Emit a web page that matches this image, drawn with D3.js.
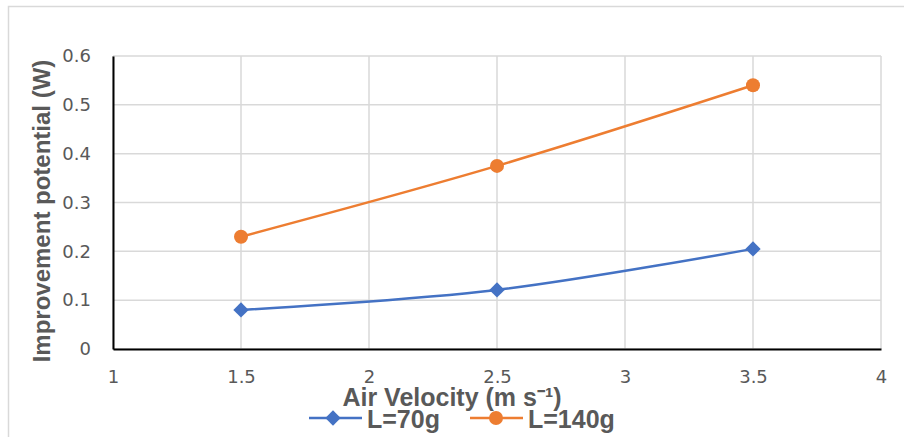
<!DOCTYPE html>
<html><head><meta charset="utf-8">
<script src="https://cdn.jsdelivr.net/npm/d3@7"></script>
<style>body{margin:0;background:#fff}svg{display:block}</style>
</head><body>
<svg id="chart" width="904" height="437"></svg>
<script>
const velocities = [1.5, 2.5, 3.5];
const seriesNames = ["L=70g", "L=140g"];
const values70 = [0.080, 0.121, 0.205];
const values140 = [0.230, 0.375, 0.540];
const xTicks = [1, 1.5, 2, 2.5, 3, 3.5, 4];
const yTicks = [0, 0.1, 0.2, 0.3, 0.4, 0.5, 0.6];
const colors = ["#4472C4", "#ED7D31"];

const svg = d3.select("#chart");
const m = {left: 113, right: 881, top: 56, bottom: 349};
const x = d3.scaleLinear().domain([1, 4]).range([m.left, m.right]);
const y = d3.scaleLinear().domain([0, 0.6]).range([m.bottom, m.top]);

// outer frame (left + top)
svg.append("path").attr("d", "M8.5,437 L8.5,6.5 L904,6.5")
  .attr("fill", "none").attr("stroke", "#d9d9d9").attr("stroke-width", 1.5);

// gridlines
svg.append("g").selectAll("line").data(yTicks).join("line")
  .attr("x1", m.left).attr("x2", m.right)
  .attr("y1", d => y(d)).attr("y2", d => y(d))
  .attr("stroke", "#d9d9d9").attr("stroke-width", 1.5);
svg.append("g").selectAll("line").data(xTicks).join("line")
  .attr("x1", d => x(d)).attr("x2", d => x(d))
  .attr("y1", m.top).attr("y2", m.bottom)
  .attr("stroke", "#d9d9d9").attr("stroke-width", 1.5);

// axes
const yAxis = svg.append("g").attr("transform", `translate(${m.left},0)`)
  .call(d3.axisLeft(y).tickValues(yTicks).tickSize(0).tickPadding(22).tickFormat(d => d3.format("")(+d.toFixed(1))));
const xAxis = svg.append("g").attr("transform", `translate(0,${m.bottom})`)
  .call(d3.axisBottom(x).tickValues(xTicks).tickSize(0).tickPadding(21).tickFormat(d => d3.format("")(d)));
[yAxis, xAxis].forEach(a => {
  a.select(".domain").attr("stroke", "#000").attr("stroke-width", 2);
  a.selectAll("text").attr("font-family", "'DejaVu Sans', sans-serif")
    .attr("font-size", 18).attr("fill", "#595959");
});

// lines
const line = d3.line().x(d => x(d[0])).y(d => y(d[1])).curve(d3.curveCatmullRom.alpha(0.5));
const allSeries = [values70, values140];
allSeries.forEach((vals, i) => {
  const pts = velocities.map((v, j) => [v, vals[j]]);
  svg.append("path").datum(pts).attr("d", line)
    .attr("fill", "none").attr("stroke", colors[i]).attr("stroke-width", 2.5);
});
// markers
const diamond = d3.symbol().type(d3.symbolDiamond2).size(150);
svg.append("g").selectAll("path").data(velocities.map((v, j) => [v, values70[j]])).join("path")
  .attr("d", diamond).attr("transform", d => `translate(${x(d[0])},${y(d[1])})`)
  .attr("fill", colors[0]);
svg.append("g").selectAll("circle").data(velocities.map((v, j) => [v, values140[j]])).join("circle")
  .attr("cx", d => x(d[0])).attr("cy", d => y(d[1])).attr("r", 7)
  .attr("fill", colors[1]);

// axis titles
svg.append("text").attr("x", 452).attr("y", 406).attr("text-anchor", "middle")
  .attr("font-family", "'Liberation Sans', Arial, sans-serif").attr("font-weight", "bold")
  .attr("font-size", 25).attr("fill", "#595959").text("Air Velocity (m s\u207B\u00B9)");

svg.append("text").attr("transform", "translate(50,211) rotate(-90)").attr("text-anchor", "middle")
  .attr("font-family", "'Liberation Sans', Arial, sans-serif").attr("font-weight", "bold")
  .attr("font-size", 24).attr("fill", "#595959").text("Improvement potential (W)");

// legend
const legendX = [309, 470];
seriesNames.forEach((name, i) => {
  const g = svg.append("g").attr("transform", `translate(${legendX[i]},418)`);
  g.append("line").attr("x1", 0).attr("x2", 53).attr("y1", 0).attr("y2", 0)
    .attr("stroke", colors[i]).attr("stroke-width", 2.5);
  if (i === 0) g.append("path").attr("d", diamond).attr("transform", "translate(24,0)").attr("fill", colors[i]);
  else g.append("circle").attr("cx", 26).attr("cy", 0).attr("r", 7).attr("fill", colors[i]);
  g.append("text").attr("x", 58).attr("y", 10)
    .attr("font-family", "'Liberation Sans', Arial, sans-serif").attr("font-weight", "bold")
    .attr("font-size", 25).attr("fill", "#595959").text(name);
});
</script>
</body></html>
